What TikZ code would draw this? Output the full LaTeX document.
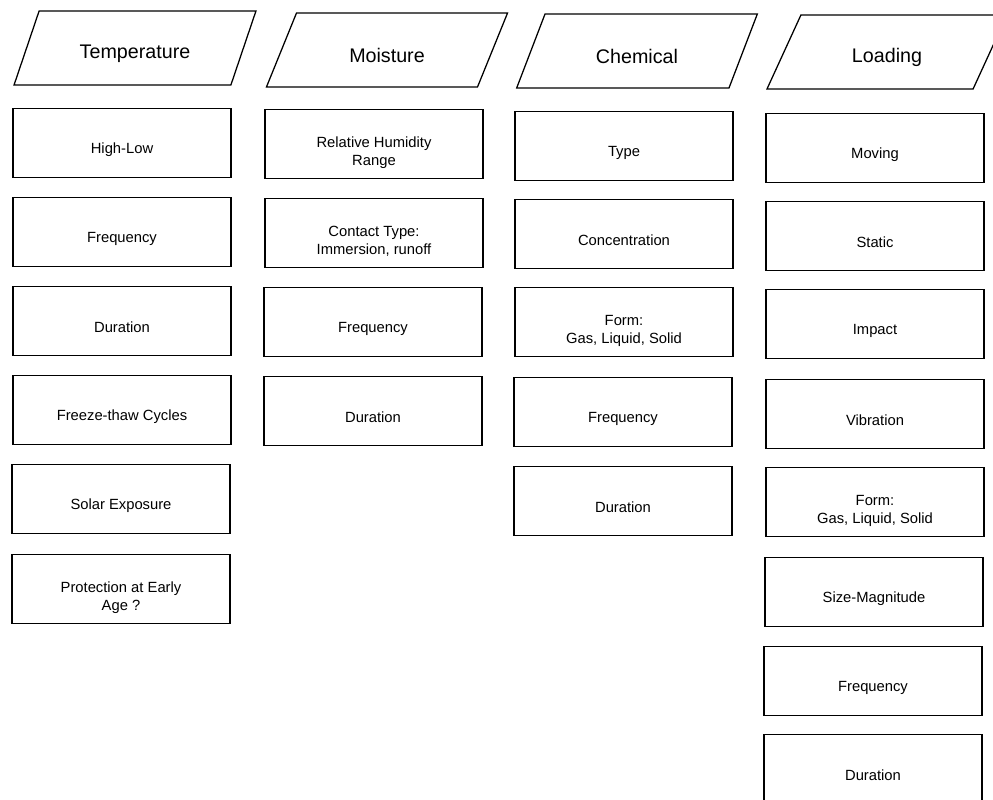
\documentclass[tikz,border=0pt]{standalone}
\usepackage{fontspec}
\setmainfont{Liberation Sans}
\usetikzlibrary{shapes.geometric}
\tikzset{
  header/.style={draw, line width=0.9pt, trapezium, trapezium left angle=68,
    trapezium right angle=112, trapezium stretches=true,
    minimum width=6.05cm, minimum height=1.85cm, text height=18pt,
    font=\fontsize{14}{16}\selectfont},
  factor/.style={draw, line width=0.9pt, minimum width=5.45cm, minimum height=1.72cm,
    text height=17pt, align=center, font=\fontsize{10.5}{12.5}\selectfont},
  twoline/.style={factor, text height=32pt, text depth=2pt},
}
\begin{document}
\begin{tikzpicture}[x=0.025cm, y=-0.025cm]
\useasboundingbox (0,0) rectangle (993,800);
% Temperature
\node[header] (temp) at (135,48) {Temperature};
\node[factor] (temp1) at (122,143) {High-Low};
\node[factor] (temp2) at (122,232) {Frequency};
\node[factor] (temp3) at (122,321) {Duration};
\node[factor] (temp4) at (122,410) {Freeze-thaw Cycles};
\node[factor] (temp5) at (121,499) {Solar Exposure};
\node[twoline] (temp6) at (121,589) {Protection at Early\\Age ?};
% Moisture
\node[header] (moist) at (387,50) {Moisture};
\node[twoline] (moist1) at (374,144) {Relative Humidity\\Range};
\node[twoline] (moist2) at (374,233) {Contact Type:\\Immersion, runoff};
\node[factor] (moist3) at (373,322) {Frequency};
\node[factor] (moist4) at (373,411) {Duration};
% Chemical
\node[header] (chem) at (637,51) {Chemical};
\node[factor] (chem1) at (624,146) {Type};
\node[factor] (chem2) at (624,234) {Concentration};
\node[twoline] (chem3) at (624,322) {Form:\\Gas, Liquid, Solid};
\node[factor] (chem4) at (623,412) {Frequency};
\node[factor] (chem5) at (623,501) {Duration};
% Loading
\node[header] (load) at (887,52) {Loading};
\node[factor] (load1) at (875,148) {Moving};
\node[factor] (load2) at (875,236) {Static};
\node[factor] (load3) at (875,324) {Impact};
\node[factor] (load4) at (875,414) {Vibration};
\node[twoline] (load5) at (875,502) {Form:\\Gas, Liquid, Solid};
\node[factor] (load6) at (874,592) {Size-Magnitude};
\node[factor] (load7) at (873,681) {Frequency};
\node[factor] (load8) at (873,769) {Duration};
\end{tikzpicture}
\end{document}
